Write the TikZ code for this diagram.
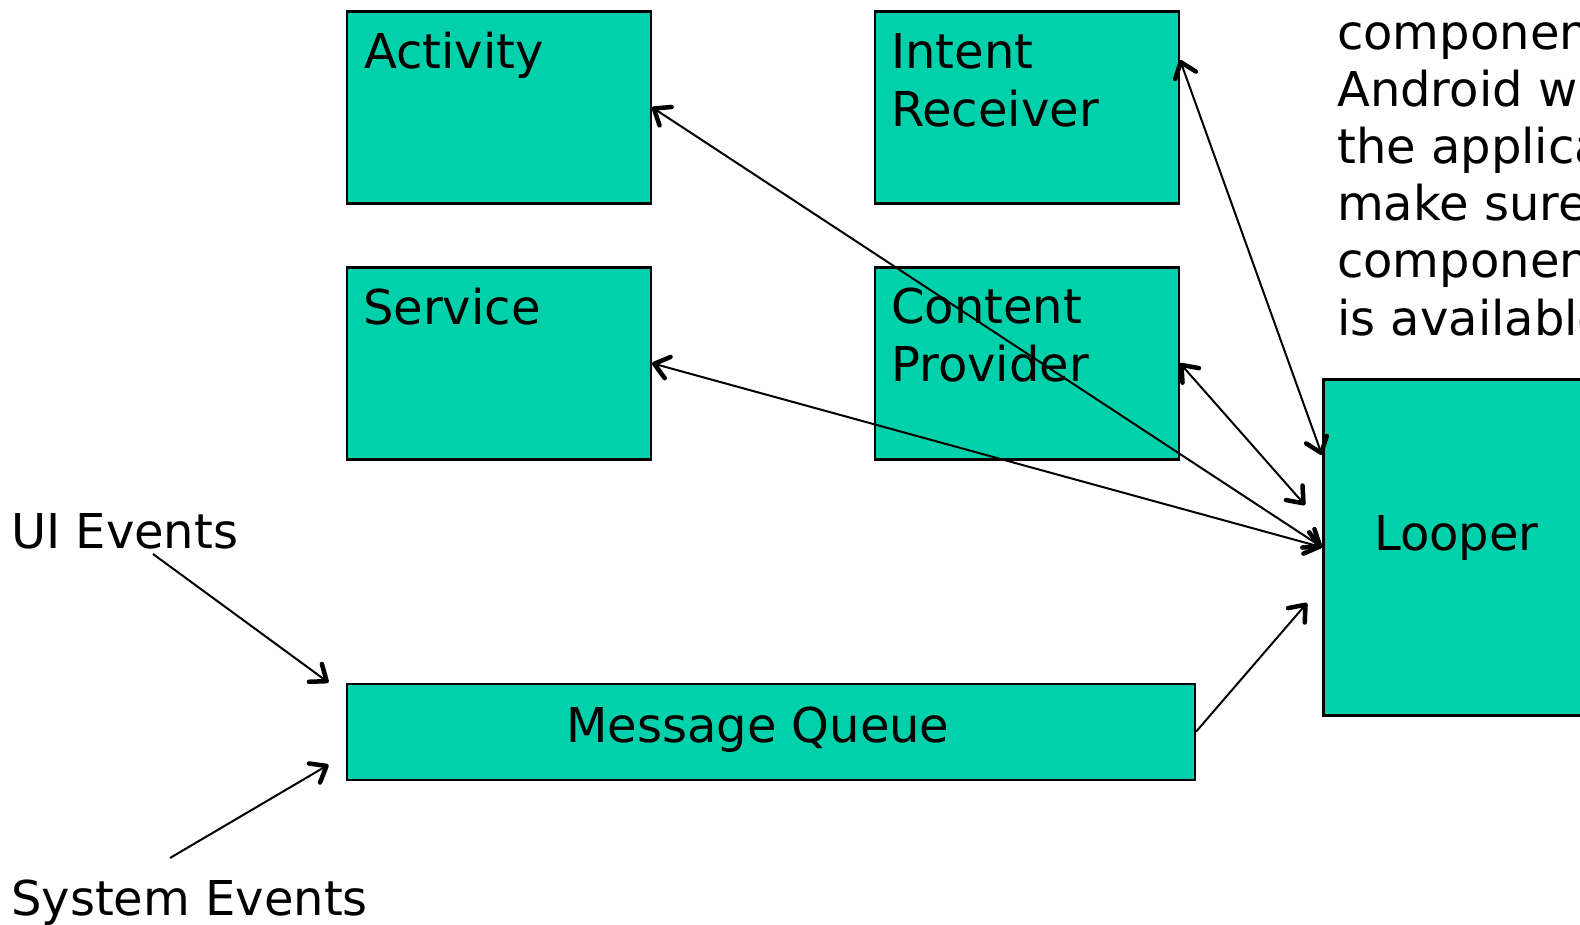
\documentclass[tikz,border=0pt]{standalone}
\usepackage{fontspec}
\setmainfont{DejaVu Sans}
\usetikzlibrary{arrows.meta}
\definecolor{boxfill}{HTML}{00D1AB}
\tikzset{
  box/.style={draw=black, fill=boxfill, line width=2.5pt, rectangle, inner sep=0pt, anchor=north west},
  lbl/.style={anchor=base west, inner sep=0pt, font=\fontsize{48pt}{57pt}\selectfont},
  conn/.style={line width=2pt, draw=black},
  hd/.tip={Straight Barb[length=14pt,width=22pt,line width=4.5pt 0 1,round]},
  both/.style={hd-hd},
  fwd/.style={-hd}
}
\begin{document}
\begin{tikzpicture}[x=1pt,y=-1pt]
\useasboundingbox (0,0) rectangle (1580,924);
\clip (0,0) rectangle (1580,924);
% boxes
\node[box, minimum width=304pt, minimum height=192pt] (activity) at (345.5,10) {};
\node[box, minimum width=304pt, minimum height=192pt] (intent) at (873.5,10) {};
\node[box, minimum width=304pt, minimum height=192pt] (service) at (345.5,266) {};
\node[box, minimum width=304pt, minimum height=192pt] (cp) at (873.5,266) {};
\node[box, minimum width=400pt, minimum height=336pt] (looper) at (1322,378) {};
\node[box, minimum width=848pt, minimum height=96pt] (mq) at (345.5,682.5) {};
% labels
\node[lbl] (tact) at (364,68.3) {Activity};
\node[lbl] (tserv) at (363,324.5) {Service};
\node[lbl] (tint1) at (891,68.3) {Intent};
\node[lbl] (tint2) at (891,126.7) {Receiver};
\node[lbl] (tcp1) at (891,323.3) {Content};
\node[lbl] (tcp2) at (891,381.7) {Provider};
\node[lbl] (tloop) at (1374,550.7) {Looper};
\node[lbl] (tmq) at (566,742.6) {Message Queue};
\node[lbl] (tui) at (11,548.3) {UI Events};
\node[lbl] (tsys) at (11,915) {System Events};
% right paragraph
\node[lbl] (p1) at (1337,49.5) {componen};
\node[lbl] (p2) at (1337,106.6) {Android w};
\node[lbl] (p3) at (1337,163.7) {the applica};
\node[lbl] (p4) at (1337,220.8) {make sure};
\node[lbl] (p5) at (1337,277.9) {componen};
\node[lbl] (p6) at (1337,335) {is available};
% coordinates
\coordinate (uistart) at (153,554);
\coordinate (sysstart) at (170,858);
% connectors
\draw[conn, both] (activity.east) -- (looper.west);
\draw[conn, both] (service.east) -- (looper.west);
\draw[conn, both] ([yshift=-50pt]intent.north east) -- ([yshift=-77pt]looper.north west);
\draw[conn, both] (cp.east) -- ([xshift=-17pt,yshift=-127pt]looper.north west);
\draw[conn, fwd] (mq.east) -- ([xshift=-15pt,yshift=-225pt]looper.north west);
\draw[conn, fwd] (uistart) -- ([xshift=-17pt]mq.north west);
\draw[conn, fwd] (sysstart) -- ([xshift=-17pt,yshift=-33pt]mq.west);
\end{tikzpicture}
\end{document}
